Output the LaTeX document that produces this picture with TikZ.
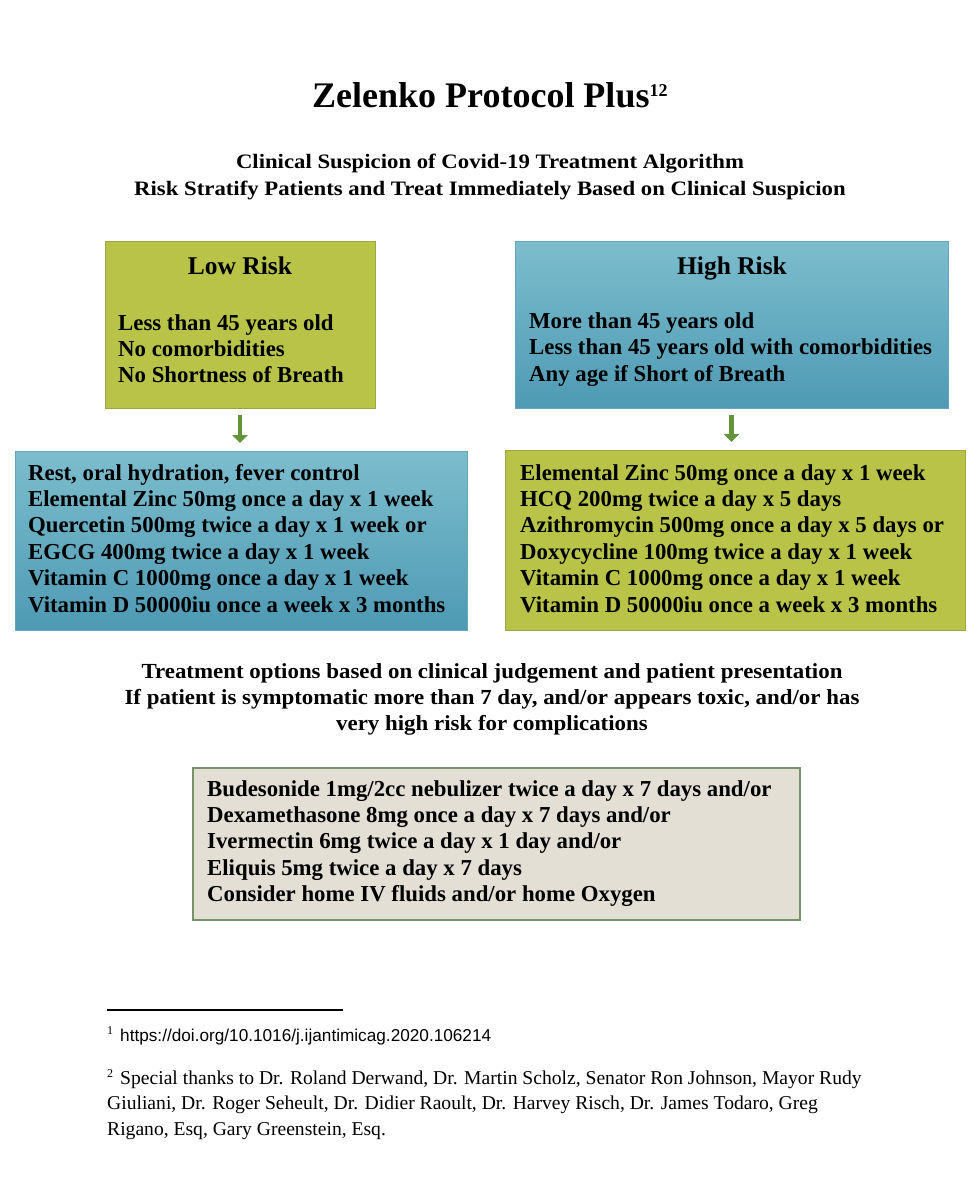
\documentclass[tikz,border=0pt]{standalone}
\usepackage{fontspec}
\setmainfont{Liberation Serif}
\newfontfamily\sansurl{Liberation Sans}
\newfontfamily\subfont[FakeStretch=1.11]{Liberation Serif}
\newfontfamily\treatfont[FakeStretch=1.065]{Liberation Serif}
\usetikzlibrary{arrows.meta}
\definecolor{limeg}{RGB}{185,195,72}
\definecolor{limeedge}{RGB}{155,166,66}
\definecolor{tealtop}{RGB}{124,189,205}
\definecolor{tealbot}{RGB}{78,154,180}
\definecolor{tealedge}{RGB}{105,165,186}
\definecolor{graybox}{RGB}{227,223,213}
\definecolor{grayedge}{RGB}{118,148,104}
\definecolor{arrowg}{RGB}{100,148,58}
\begin{document}
\begin{tikzpicture}[x=1pt,y=-1pt,
  box/.style={rectangle, inner sep=0pt, outer sep=0pt, anchor=north west},
  limebox/.style={box, fill=limeg, draw=limeedge, line width=0.8pt},
  tealbox/.style={box, top color=tealtop, bottom color=tealbot, draw=tealedge, line width=0.8pt},
  notebox/.style={box, fill=graybox, draw=grayedge, line width=1.8pt},
  body/.style={inner sep=0pt, anchor=base west, font=\fontsize{22.8}{26.4}\selectfont\bfseries},
  head/.style={inner sep=0pt, anchor=base, font=\fontsize{25.5}{30}\selectfont\bfseries},
  subt/.style={inner sep=0pt, anchor=base, font=\subfont\fontsize{20.5}{27}\selectfont\bfseries},
  treat/.style={inner sep=0pt, anchor=base, font=\treatfont\fontsize{21.5}{26}\selectfont\bfseries},
  fntext/.style={inner sep=0pt, anchor=base west, font=\fontsize{19.6}{25}\selectfont},
  fnmark/.style={inner sep=0pt, anchor=base west, font=\fontsize{12}{14}\selectfont},
  flow/.style={draw=arrowg, line width=4.5pt, -{Triangle[width=15pt,length=8pt]}, shorten <=7pt, shorten >=8pt},
]
\fill[white] (0,0) rectangle (970,1200);
\useasboundingbox (0,0) rectangle (970,1200);

% title
\node[inner sep=0pt, anchor=base west, font=\fontsize{36}{40}\selectfont\bfseries] (title) at (312,107) {Zelenko Protocol Plus\raisebox{11pt}{\fontsize{18}{20}\selectfont 12}};
\node[subt] (sub1) at (490,168) {Clinical Suspicion of Covid-19 Treatment Algorithm};
\node[subt] (sub2) at (490,195) {Risk Stratify Patients and Treat Immediately Based on Clinical Suspicion};

% boxes
\node[limebox, minimum width=270pt, minimum height=167pt] (low) at (105,241) {};
\node[tealbox, minimum width=433pt, minimum height=167pt] (high) at (515,241) {};
\node[tealbox, minimum width=452pt, minimum height=179pt] (lbox) at (15,451) {};
\node[limebox, minimum width=460pt, minimum height=180pt] (rbox) at (505,450) {};
\node[notebox, minimum width=607pt, minimum height=152pt] (note) at (193,768) {};

% arrows
\draw[flow] (low.south) -- (low.south |- lbox.north);
\draw[flow] (high.south) -- (high.south |- rbox.north);

% low risk
\node[head] (lowh) at (240,274) {Low Risk};
\node[body] (low1) at (118,330) {Less than 45 years old};
\node[body] (low2) at (118,356) {No comorbidities};
\node[body] (low3) at (118,382) {No Shortness of Breath};

% high risk
\node[head] (highh) at (732,274) {High Risk};
\node[body] (high1) at (529,328) {More than 45 years old};
\node[body] (high2) at (529,354.5) {Less than 45 years old with comorbidities};
\node[body] (high3) at (529,381) {Any age if Short of Breath};

% low treatment
\node[body] (l1) at (28,480) {Rest, oral hydration, fever control};
\node[body] (l2) at (28,506.4) {Elemental Zinc 50mg once a day x 1 week};
\node[body] (l3) at (28,532.8) {Quercetin 500mg twice a day x 1 week or};
\node[body] (l4) at (28,559.2) {EGCG 400mg twice a day x 1 week};
\node[body] (l5) at (28,585.6) {Vitamin C 1000mg once a day x 1 week};
\node[body] (l6) at (28,612) {Vitamin D 50000iu once a week x 3 months};

% high treatment
\node[body] (r1) at (520,480) {Elemental Zinc 50mg once a day x 1 week};
\node[body] (r2) at (520,506.4) {HCQ 200mg twice a day x 5 days};
\node[body] (r3) at (520,532.8) {Azithromycin 500mg once a day x 5 days or};
\node[body] (r4) at (520,559.2) {Doxycycline 100mg twice a day x 1 week};
\node[body] (r5) at (520,585.6) {Vitamin C 1000mg once a day x 1 week};
\node[body] (r6) at (520,612) {Vitamin D 50000iu once a week x 3 months};

% treatment options
\node[treat] (t1) at (492,678) {Treatment options based on clinical judgement and patient presentation};
\node[treat] (t2) at (492,704) {If patient is symptomatic more than 7 day, and/or appears toxic, and/or has};
\node[treat] (t3) at (492,730) {very high risk for complications};

% note box
\node[body] (n1) at (207,796) {Budesonide 1mg/2cc nebulizer twice a day x 7 days and/or};
\node[body] (n2) at (207,822.4) {Dexamethasone 8mg once a day x 7 days and/or};
\node[body] (n3) at (207,848.8) {Ivermectin 6mg twice a day x 1 day and/or};
\node[body] (n4) at (207,875.2) {Eliquis 5mg twice a day x 7 days};
\node[body] (n5) at (207,901.6) {Consider home IV fluids and/or home Oxygen};

% footnotes
\draw[line width=2.5pt] (107,1010) -- (343,1010);
\node[fnmark] (fm1) at (107,1034) {1};
\node[inner sep=0pt, anchor=base west, font=\sansurl\fontsize{17.2}{20}\selectfont] (fn1) at (120,1041) {https://doi.org/10.1016/j.ijantimicag.2020.106214};
\node[fnmark] (fm2) at (107,1077) {2};
\node[fntext] (fn2a) at (120,1084) {Special thanks to Dr. Roland Derwand, Dr. Martin Scholz, Senator Ron Johnson, Mayor Rudy};
\node[fntext] (fn2b) at (107,1109.5) {Giuliani, Dr. Roger Seheult, Dr. Didier Raoult, Dr. Harvey Risch, Dr. James Todaro, Greg};
\node[fntext] (fn2c) at (107,1135) {Rigano, Esq, Gary Greenstein, Esq.};
\end{tikzpicture}
\end{document}
